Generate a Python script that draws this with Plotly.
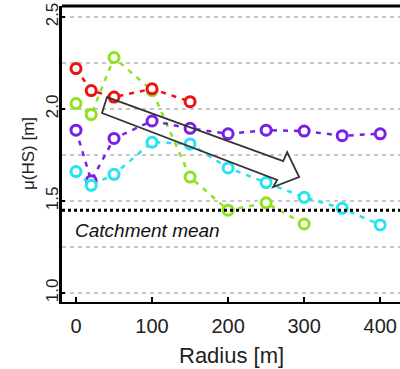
import plotly.graph_objects as go

# ---- data ----
red_x = [0, 20, 50, 100, 150]
red_y = [2.22, 2.10, 2.065, 2.11, 2.04]

green_x = [0, 20, 50, 100, 150, 200, 250, 300]
green_y = [2.03, 1.97, 2.28, 2.10, 1.63, 1.45, 1.49, 1.375]

purple_x = [0, 20, 50, 100, 150, 200, 250, 300, 350, 400]
purple_y = [1.885, 1.61, 1.84, 1.935, 1.895, 1.865, 1.885, 1.88, 1.855, 1.865]

cyan_x = [0, 20, 50, 100, 150, 200, 250, 300, 350, 400]
cyan_y = [1.66, 1.585, 1.645, 1.82, 1.81, 1.68, 1.60, 1.52, 1.46, 1.37]

catchment_mean = 1.45
x_ticks = [0, 100, 200, 300, 400]
y_ticks = [1.0, 1.5, 2.0, 2.5]
y_grid = [1.0, 1.25, 1.5, 1.75, 2.0, 2.25, 2.5]

# trend arrow outline (data coords)
arrow_x = [40.8, 272.4, 277.6, 293.4, 259.2, 264.5, 34.2]
arrow_y = [2.065, 1.717, 1.766, 1.630, 1.576, 1.614, 1.978]

FONT = "Liberation Sans, Arial, sans-serif"

fig = go.Figure()

series = [
    (green_x, green_y, "#8ee31e"),
    (purple_x, purple_y, "#7a1fe6"),
    (cyan_x, cyan_y, "#26e3ef"),
    (red_x, red_y, "#ee1111"),
]
for xs, ys, col in series:
    fig.add_trace(go.Scatter(
        x=xs, y=ys, mode="lines+markers",
        line=dict(color=col, width=2.5, dash="5px,6px"),
        marker=dict(symbol="circle", size=10, color="white",
                    line=dict(color=col, width=3)),
        showlegend=False, hoverinfo="skip",
    ))

shapes = []
for g in y_grid:
    shapes.append(dict(type="line", xref="paper", x0=0, x1=1, yref="y", y0=g, y1=g,
                       line=dict(color="#c8c8c8", width=2, dash="4px,4px"), layer="below"))
# catchment mean line
shapes.append(dict(type="line", xref="paper", x0=0, x1=1, yref="y",
                   y0=catchment_mean, y1=catchment_mean,
                   line=dict(color="black", width=3, dash="3px,3px")))
# top border
shapes.append(dict(type="line", xref="paper", x0=0, x1=1, yref="paper", y0=1, y1=1,
                   line=dict(color="black", width=3)))
# arrow
path = "M " + " L ".join(f"{a},{b}" for a, b in zip(arrow_x, arrow_y)) + " Z"
shapes.append(dict(type="path", xref="x", yref="y", path=path,
                   line=dict(color="#333333", width=1.8), fillcolor="rgba(0,0,0,0)"))

annotations = [
    dict(text="<i>Catchment mean</i>", x=-4, y=1.342, xref="x", yref="y",
         xanchor="left", yanchor="middle", showarrow=False,
         font=dict(size=19, color="#111111", family=FONT)),
    dict(text="μ(HS) [m]", x=0, y=0.5, xref="paper", yref="paper", xshift=-34,
         xanchor="center", yanchor="middle", textangle=-90, showarrow=False,
         font=dict(size=17, color="#222222", family=FONT)),
    dict(text="Radius [m]", x=0.5, y=0, xref="paper", yref="paper", yshift=-53,
         xanchor="center", yanchor="middle", showarrow=False,
         font=dict(size=22, color="#222222", family=FONT)),
]

fig.update_layout(
    width=400, height=369,
    margin=dict(l=62, r=0, t=6, b=67, autoexpand=False),
    paper_bgcolor="white", plot_bgcolor="white",
    shapes=shapes, annotations=annotations,
    font=dict(family=FONT, color="#222222"),
)
fig.update_xaxes(
    range=[-18.4, 426], tickvals=x_ticks, showgrid=False, zeroline=False, automargin=False,
    showline=True, linecolor="black", linewidth=2,
    ticks="inside", ticklen=5, tickwidth=2, tickcolor="black",
    ticklabelstandoff=5,
    tickfont=dict(size=20, color="#222222"),
)
fig.update_yaxes(
    range=[0.951, 2.56], tickvals=y_ticks, tickformat=".1f", showgrid=False, zeroline=False,
    automargin=False,
    showline=True, linecolor="black", linewidth=3,
    ticks="inside", ticklen=3, tickwidth=2, tickcolor="black",
    tickangle=-90, ticklabelstandoff=-6,
    tickfont=dict(size=17, color="#222222"),
)

fig.write_html("out.html", config={"displayModeBar": False},
               post_script="document.body.style.margin='0px';")
